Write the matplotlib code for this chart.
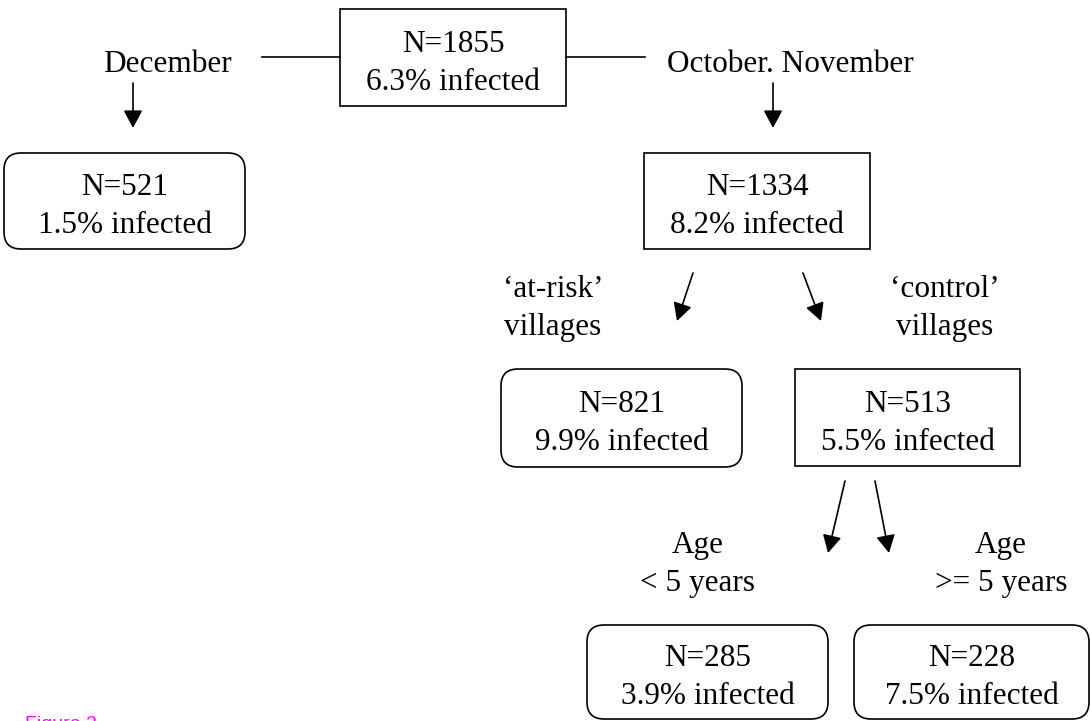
import matplotlib
matplotlib.use("Agg")
import matplotlib.pyplot as plt
from matplotlib.patches import FancyBboxPatch, Rectangle, FancyArrowPatch

# ---- data ----
node_n = [1855, 521, 1334, 821, 513, 285, 228]
node_pct = [6.3, 1.5, 8.2, 9.9, 5.5, 3.9, 7.5]
node_rounded = [False, True, False, True, False, True, True]
branch_labels = ["December", "October. November",
                 "\u2018at-risk\u2019\nvillages", "\u2018control\u2019\nvillages",
                 "Age\n< 5 years", "Age\n>= 5 years"]
caption = "Figure 2"

# ---- layout (pixel coordinates, y downward) ----
box_xy = [(340, 9, 566, 106), (4, 153, 245, 249), (644, 153, 870, 249),
          (501, 369, 742, 467), (795, 369, 1020, 466),
          (587, 625, 828, 719), (854, 625, 1089, 719)]
label_pos = [(168, 72), (790, 72), (553, 297), (945, 297), (698, 553), (1001, 553)]
arrows = [((133, 83), (133, 128)), ((773, 83), (773, 128)),
          ((693, 273), (677, 321)), ((803, 273), (821, 321)),
          ((845, 481), (828, 553)), ((875, 481), (889, 553))]
plain_lines = [((262, 57), (340, 57)), ((566, 57), (645, 57))]

W, H = 1092, 721
fig = plt.figure(figsize=(W / 100, H / 100), dpi=100)
ax = fig.add_axes([0, 0, 1, 1])
ax.set_xlim(0, W)
ax.set_ylim(H, 0)
ax.axis("off")

serif = "Liberation Serif"
fs = 22.5
lw = 1.2

for (x0, y0, x1, y1), n, p, r in zip(box_xy, node_n, node_pct, node_rounded):
    if r:
        patch = FancyBboxPatch((x0, y0), x1 - x0, y1 - y0,
                               boxstyle="round,pad=0,rounding_size=17",
                               fc="white", ec="black", lw=lw)
    else:
        patch = Rectangle((x0, y0), x1 - x0, y1 - y0, fc="white", ec="black", lw=lw)
    ax.add_patch(patch)
    cx, cy = (x0 + x1) / 2, (y0 + y1) / 2
    ax.text(cx, cy - 6, f"N={n}", ha="center", va="baseline",
            family=serif, fontsize=fs)
    ax.text(cx, cy + 32, f"{p}% infected", ha="center", va="baseline",
            family=serif, fontsize=fs)

for (x, y), lab in zip(label_pos, branch_labels):
    lines = lab.split("\n")
    for i, ln in enumerate(lines):
        ax.text(x, y + 37.5 * i, ln, ha="center", va="baseline",
                family=serif, fontsize=fs)

for (a, b) in plain_lines:
    ax.plot([a[0], b[0]], [a[1], b[1]], color="black", lw=lw)

for (a, b) in arrows:
    arr = FancyArrowPatch(a, b, arrowstyle="-|>,head_length=0.9,head_width=0.48",
                          mutation_scale=12, shrinkA=0, shrinkB=0,
                          color="black", lw=lw)
    ax.add_patch(arr)

ax.text(25, 716, caption, ha="left", va="top", color="#FF00FF",
        family="Liberation Sans", fontsize=14)

fig.savefig("out.png", dpi=100)
